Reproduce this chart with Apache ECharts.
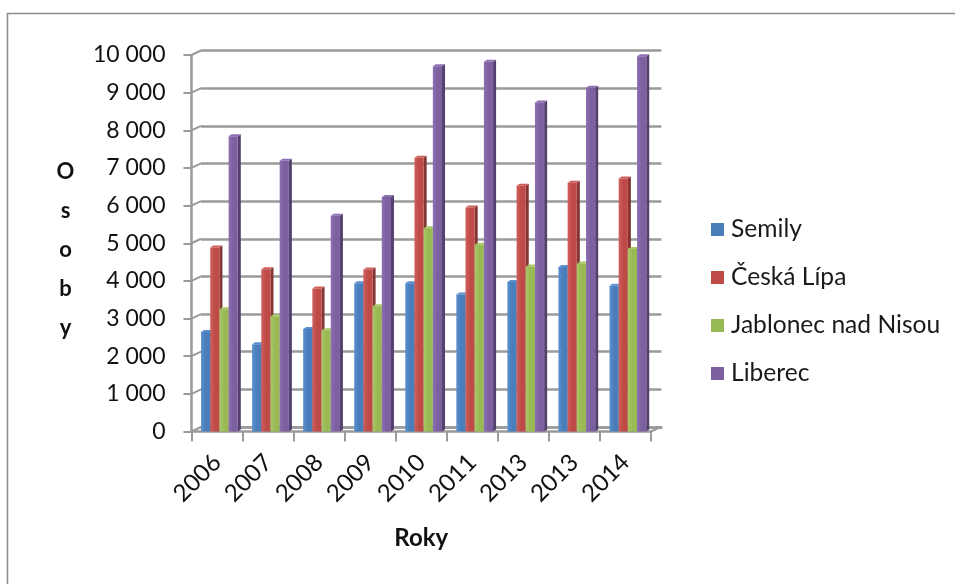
<!DOCTYPE html>
<html><head><meta charset="utf-8">
<style>html,body{margin:0;padding:0;background:#fff;overflow:hidden}#c{width:955px;height:584px}</style>
<script src="https://cdn.jsdelivr.net/npm/echarts@6/dist/echarts.min.js"></script>
</head><body><div id="c"></div>
<script>
const categories = ['2006','2007','2008','2009','2010','2011','2013','2013','2014'];
const semily   = [2640,2320,2720,3940,3940,3640,3970,4370,3870];
const ceskaLipa= [4890,4310,3800,4300,7270,5950,6530,6610,6720];
const jablonec = [3250,3060,2690,3330,5400,4960,4380,4460,4850];
const liberec  = [7840,7190,5730,6230,9700,9820,8740,9130,9970];
const seriesNames = ['Semily','Česká Lípa','Jablonec nad Nisou','Liberec'];
const seriesValues = [semily,ceskaLipa,jablonec,liberec];
const colors = ['#4a7ebb','#be4b48','#98b954','#7d60a0'];
const sideColors = ['#2f5583','#843431','#6a8139','#54406e'];
const lightColors = ['#5a90cf','#cf5f5b','#a9c968','#8d70b2'];
const yMax = 10000, yStep = 1000;
const FONT = 'Lato, Carlito, sans-serif';
const GREY = '#9a9a9a';
const DX = 9.5, DY = 4.5;

function bar3d(si){
  return function(params, api){
    const idx = api.value(0), v = api.value(1);
    const band = api.size([1,0])[0];
    const w = band*0.18;
    const base = api.coord([idx,0]);
    const top = api.coord([idx,v]);
    const x = base[0] - w*2 + 2.4 + si*w;
    const d = 3, c = 2;
    return {type:'group', children:[
      {type:'polygon', shape:{points:[[x+w,top[1]],[x+w+d,top[1]-c],[x+w+d,base[1]-c],[x+w,base[1]]]}, style:{fill:sideColors[si]}},
      {type:'polygon', shape:{points:[[x,top[1]],[x+d,top[1]-c],[x+w+d,top[1]-c],[x+w,top[1]]]}, style:{fill:lightColors[si]}},
      {type:'rect', shape:{x:x,y:top[1],width:w,height:base[1]-top[1]},
       style:{fill:{type:'linear',x:0,y:0,x2:1,y2:0,colorStops:[{offset:0,color:lightColors[si]},{offset:.5,color:colors[si]},{offset:1,color:colors[si]}]}}}
    ]};
  };
}
const tickValues = [];
for(let t=0;t<=yMax;t+=yStep) tickValues.push(t);

const barSeries = seriesNames.map((n,si)=>({
  name:n, type:'custom', xAxisIndex:0, yAxisIndex:0, z:5,
  itemStyle:{color:colors[si]},
  data:seriesValues[si].map((v,i)=>[i,v]),
  encode:{x:0,y:1},
  renderItem:bar3d(si)
}));
const connectors = {
  type:'custom', xAxisIndex:0, yAxisIndex:0, z:3, silent:true, legendHoverLink:false,
  data:tickValues.map(t=>[0,t]), encode:{x:0,y:1}, clip:false,
  renderItem(p,api){
    const band = api.size([1,0])[0];
    const c = api.coord([api.value(0),api.value(1)]);
    const x0 = c[0]-band/2;
    const kids = [{type:'line',shape:{x1:x0,y1:c[1],x2:x0+DX,y2:c[1]-DY},style:{stroke:GREY,lineWidth:2}}];
    if(api.value(1)===0){
      const xr = x0+band*categories.length;
      kids.push({type:'line',shape:{x1:xr,y1:c[1],x2:xr+DX,y2:c[1]-DY},style:{stroke:GREY,lineWidth:2}});
    }
    return {type:'group',children:kids};
  }
};

const chart = echarts.init(document.getElementById('c'),null,{renderer:'canvas'});
chart.setOption({
  animation:false, backgroundColor:'#fff',
  graphic:[{type:'rect',shape:{x:7.5,y:13.5,width:1000,height:700},style:{fill:'none',stroke:'#8c8c8c',lineWidth:1.5},z:-1,silent:true}],
  grid:[
    {left:191.5,top:55,width:459.5,height:376.5},
    {left:201,top:50.5,width:460.5,height:376.5}
  ],
  legend:{orient:'vertical',left:711,top:217,padding:0,itemWidth:13,itemHeight:13,itemGap:23,
    icon:'rect',data:seriesNames,selectedMode:false,
    textStyle:{fontFamily:FONT,fontSize:24.6,color:'#1a1a1a',padding:[0,0,0,2]}},
  xAxis:[
    {type:'category',gridIndex:0,data:categories,boundaryGap:true,
     name:'Roky',nameLocation:'middle',nameGap:95,
     nameTextStyle:{fontFamily:FONT,fontSize:24,fontWeight:'bold',color:'#111'},
     axisLine:{lineStyle:{color:GREY,width:2.5}},
     axisTick:{show:true,length:10,alignWithLabel:false,lineStyle:{color:GREY,width:2}},
     axisLabel:{rotate:45,interval:0,margin:27,fontFamily:FONT,fontSize:24,color:'#111'}},
    {type:'category',gridIndex:1,data:categories,show:true,
     axisLine:{lineStyle:{color:GREY,width:2.5}},axisTick:{show:false},axisLabel:{show:false}}
  ],
  yAxis:[
    {type:'value',gridIndex:0,min:0,max:yMax,interval:yStep,
     name:'{p| }\n{t|O}\n{t|s}\n{t|o}\n{t|b}\n{t|y}',nameLocation:'middle',nameRotate:0,nameGap:126,
     nameTextStyle:{align:'center',rich:{
       p:{fontSize:10,lineHeight:14,height:14},
       t:{fontFamily:FONT,fontSize:22,fontWeight:'bold',color:'#111',lineHeight:39,align:'center'}}},
     axisLine:{show:true,lineStyle:{color:GREY,width:2.5}},
     axisTick:{show:true,length:8,lineStyle:{color:GREY,width:2}},
     splitLine:{show:false},
     axisLabel:{margin:26,fontFamily:FONT,fontSize:23,color:'#111',
       formatter:v=>String(v).replace(/\B(?=(\d{3})+$)/g,' ')}},
    {type:'value',gridIndex:1,min:0,max:yMax,interval:yStep,
     axisLine:{show:false},axisTick:{show:false},axisLabel:{show:false},
     splitLine:{show:true,lineStyle:{color:GREY,width:2.5,type:'solid'}}}
  ],
  series:[connectors].concat(barSeries)
});
</script></body></html>
